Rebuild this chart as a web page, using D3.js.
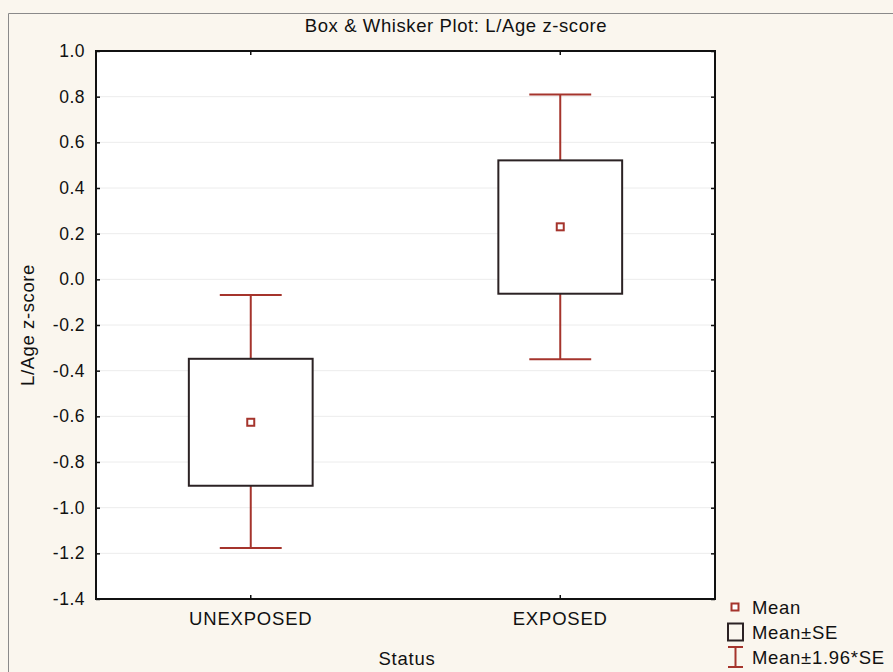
<!DOCTYPE html>
<html>
<head>
<meta charset="utf-8">
<script src="https://cdn.jsdelivr.net/npm/d3@7"></script>
<style>
  body { margin: 0; background: #faf6ee; }
  text { font-family: "Liberation Sans", Arial, sans-serif; fill: #111; letter-spacing: 0.5px; }
</style>
</head>
<body>
<div id="chart"></div>
<script>
// values
const categories = ["UNEXPOSED", "EXPOSED"];
const means = [-0.626, 0.230];
const seLow = [-0.904, -0.063];
const seHigh = [-0.348, 0.521];
const ciLow = [-1.177, -0.350];
const ciHigh = [-0.069, 0.809];
const yTicks = [1.0, 0.8, 0.6, 0.4, 0.2, 0.0, -0.2, -0.4, -0.6, -0.8, -1.0, -1.2, -1.4];
const legendItems = ["Mean", "Mean±SE", "Mean±1.96*SE"];

const width = 893, height = 672;
const margin = { top: 51, right: 178, bottom: 73, left: 96 };
const innerW = width - margin.left - margin.right;
const innerH = height - margin.top - margin.bottom;
const red = "#a5342c";
const dark = "#2b2224";
const fontSize = "17.5px";
const bigFont = "18.5px";

const svg = d3.select("#chart").append("svg")
    .attr("width", width)
    .attr("height", height);

// outer frame
svg.append("path")
    .attr("d", `M8.5,${height} L8.5,13.5 L${width},13.5`)
    .attr("fill", "none")
    .attr("stroke", "#8a8a8a")
    .attr("stroke-width", 1);

svg.append("text")
    .attr("x", 456)
    .attr("y", 32)
    .attr("text-anchor", "middle")
    .style("font-size", bigFont)
    .style("letter-spacing", "0.6px")
    .text("Box & Whisker Plot: L/Age z-score");

const g = svg.append("g")
    .attr("transform", `translate(${margin.left},${margin.top})`);

const x = d3.scaleBand().domain(categories).range([0, innerW]).padding(0);
const y = d3.scaleLinear().domain([-1.4, 1.0]).range([innerH, 0]);

g.append("rect")
    .attr("width", innerW)
    .attr("height", innerH)
    .attr("fill", "#fff");

// gridlines
g.selectAll(".grid")
    .data(yTicks)
    .enter().append("line")
    .attr("class", "grid")
    .attr("x1", 0)
    .attr("x2", innerW)
    .attr("y1", d => y(d))
    .attr("y2", d => y(d))
    .attr("stroke", "#ececec")
    .attr("stroke-width", 1);

// axes, ticks pointing inward on all sides
const tickLen = 4;
g.append("g")
    .call(d3.axisLeft(y).tickValues(yTicks).tickFormat(d3.format(".1f")).tickSizeInner(-tickLen).tickSizeOuter(0).tickPadding(11))
    .call(a => a.select(".domain").remove())
    .call(a => a.selectAll("text").style("font-size", fontSize).text(d => d3.format(".1f")(d).replace("−", "-")));

g.append("g")
    .attr("transform", `translate(${innerW},0)`)
    .call(d3.axisRight(y).tickValues(yTicks).tickFormat("").tickSizeInner(-tickLen).tickSizeOuter(0))
    .call(a => a.select(".domain").remove());

g.append("g")
    .attr("transform", `translate(0,${innerH})`)
    .call(d3.axisBottom(x).tickSizeInner(-tickLen).tickSizeOuter(0).tickPadding(13))
    .call(a => a.select(".domain").remove())
    .call(a => a.selectAll("text").style("font-size", bigFont).style("letter-spacing", "0.8px"));

g.append("g")
    .call(d3.axisTop(x).tickFormat("").tickSizeInner(-tickLen).tickSizeOuter(0))
    .call(a => a.select(".domain").remove());

g.selectAll(".tick line").attr("stroke", "#111").attr("stroke-width", 1.5);

g.append("rect")
    .attr("width", innerW)
    .attr("height", innerH)
    .attr("fill", "none")
    .attr("stroke", "#111")
    .attr("stroke-width", 2);

// boxes
const boxW = x.bandwidth() * 0.4;
const capW = x.bandwidth() * 0.2;
const cx = d => x(d) + x.bandwidth() / 2;

const groups = g.selectAll(".box")
    .data(categories.map((c, i) => ({ c, i })))
    .enter().append("g")
    .attr("class", "box");

groups.append("line")
    .attr("x1", d => cx(d.c)).attr("x2", d => cx(d.c))
    .attr("y1", d => y(ciHigh[d.i])).attr("y2", d => y(seHigh[d.i]))
    .attr("stroke", red).attr("stroke-width", 2);

groups.append("line")
    .attr("x1", d => cx(d.c)).attr("x2", d => cx(d.c))
    .attr("y1", d => y(seLow[d.i])).attr("y2", d => y(ciLow[d.i]))
    .attr("stroke", red).attr("stroke-width", 2);

groups.append("line")
    .attr("x1", d => cx(d.c) - capW / 2).attr("x2", d => cx(d.c) + capW / 2)
    .attr("y1", d => y(ciHigh[d.i])).attr("y2", d => y(ciHigh[d.i]))
    .attr("stroke", red).attr("stroke-width", 2);

groups.append("line")
    .attr("x1", d => cx(d.c) - capW / 2).attr("x2", d => cx(d.c) + capW / 2)
    .attr("y1", d => y(ciLow[d.i])).attr("y2", d => y(ciLow[d.i]))
    .attr("stroke", red).attr("stroke-width", 2);

groups.append("rect")
    .attr("x", d => cx(d.c) - boxW / 2)
    .attr("y", d => y(seHigh[d.i]))
    .attr("width", boxW)
    .attr("height", d => y(seLow[d.i]) - y(seHigh[d.i]))
    .attr("fill", "#fff")
    .attr("stroke", dark)
    .attr("stroke-width", 2);

groups.append("rect")
    .attr("x", d => cx(d.c) - 3.5)
    .attr("y", d => y(means[d.i]) - 3.5)
    .attr("width", 7)
    .attr("height", 7)
    .attr("fill", "#fff")
    .attr("stroke", red)
    .attr("stroke-width", 2);

// axis titles
svg.append("text")
    .attr("transform", `translate(34,${margin.top + innerH / 2}) rotate(-90)`)
    .attr("text-anchor", "middle")
    .style("font-size", bigFont)
    .style("letter-spacing", "0.6px")
    .text("L/Age z-score");

svg.append("text")
    .attr("x", 407)
    .attr("y", 665)
    .attr("text-anchor", "middle")
    .style("font-size", bigFont)
    .style("letter-spacing", "0.8px")
    .text("Status");

// legend
const legend = svg.append("g").attr("transform", "translate(727,0)");
const rows = [607, 632, 657];

legend.append("rect")
    .attr("x", 4.5).attr("y", rows[0] - 3.5)
    .attr("width", 7).attr("height", 7)
    .attr("fill", "#fff").attr("stroke", red).attr("stroke-width", 2);

legend.append("rect")
    .attr("x", 1).attr("y", rows[1] - 8.5)
    .attr("width", 15).attr("height", 17)
    .attr("fill", "none").attr("stroke", dark).attr("stroke-width", 2);

legend.append("path")
    .attr("d", `M1,${rows[2] - 10} H16 M8.5,${rows[2] - 10} V${rows[2] + 10} M1,${rows[2] + 10} H16`)
    .attr("fill", "none").attr("stroke", red).attr("stroke-width", 2);

legend.selectAll(".lt")
    .data(legendItems)
    .enter().append("text")
    .attr("class", "lt")
    .attr("x", 25)
    .attr("y", (d, i) => rows[i] + 6.5)
    .style("font-size", bigFont)
    .style("letter-spacing", "0.7px")
    .text(d => d);
</script>
</body>
</html>
